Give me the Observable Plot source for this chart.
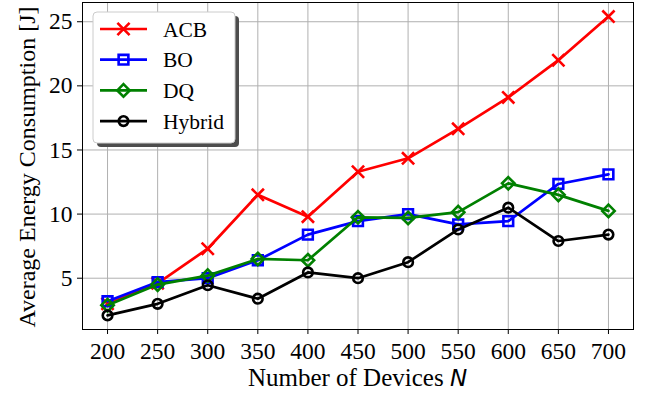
<!DOCTYPE html>
<html><head><meta charset="utf-8">
<script src="https://cdn.jsdelivr.net/npm/d3@7"></script>
<script src="https://cdn.jsdelivr.net/npm/@observablehq/plot@0.6"></script>
<style>
body{margin:0;background:#fff}
#chart{position:relative;width:655px;height:394px}
#chart svg text, #chart svg tspan{font-family:"Liberation Serif", serif}
#chart svg tspan.math{font-family:"DejaVu Sans", sans-serif;font-style:italic}
</style>
</head><body><div id="chart"></div>
<script>
const devices = [200, 250, 300, 350, 400, 450, 500, 550, 600, 650, 700];
const acb = [3.0, 4.6, 7.3, 11.5, 9.8, 13.3, 14.35, 16.65, 19.1, 22.0, 25.4];
const bo = [3.2, 4.7, 5.0, 6.4, 8.4, 9.45, 10.0, 9.2, 9.45, 12.35, 13.1];
const dq = [2.9, 4.5, 5.2, 6.5, 6.4, 9.75, 9.7, 10.15, 12.4, 11.5, 10.25];
const hybrid = [2.1, 3.0, 4.45, 3.4, 5.45, 5.0, 6.25, 8.8, 10.5, 7.9, 8.4];
const seriesNames = ["ACB", "BO", "DQ", "Hybrid"];
const seriesValues = [acb, bo, dq, hybrid];
const seriesColors = ["#ff0000", "#0000ff", "#008000", "#000000"];
const seriesSymbols = ["times", "square2", "diamond2", "circle"];
const seriesR = [5.6, 6.2, 5.6, 4.8];
const xTicks = [200, 250, 300, 350, 400, 450, 500, 550, 600, 650, 700];
const yTicks = [5, 10, 15, 20, 25];

const rows = [];
seriesNames.forEach((s, i) => devices.forEach((d, j) => rows.push({series: s, n: d, v: seriesValues[i][j]})));

const W = 655, H = 394, ML = 82, MR = 22, MT = 2, MB = 65;
const FONT = "Liberation Serif";

const marks = [
  Plot.gridX(xTicks, {stroke: "#b0b0b0", strokeOpacity: 1, strokeWidth: 1}),
  Plot.gridY(yTicks, {stroke: "#b0b0b0", strokeOpacity: 1, strokeWidth: 1}),
  Plot.axisX(xTicks, {tickSize: 5, tickPadding: 8, fontSize: 23.5, label: null, stroke: "black"}),
  Plot.axisY(yTicks, {tickSize: 5, tickPadding: 5, fontSize: 23.5, label: null, stroke: "black"}),
];
seriesNames.forEach((s, i) => {
  const data = rows.filter(r => r.series === s);
  marks.push(Plot.line(data, {x: "n", y: "v", stroke: seriesColors[i], strokeWidth: 2.7}));
  marks.push(Plot.dot(data, {x: "n", y: "v", symbol: () => seriesSymbols[i], r: seriesR[i], stroke: seriesColors[i], strokeWidth: 2.6, fill: "none"}));
});
marks.push(Plot.frame({stroke: "black", strokeWidth: 1}));

const chart = Plot.plot({
  width: W, height: H,
  marginLeft: ML, marginRight: MR, marginTop: MT, marginBottom: MB,
  style: {fontFamily: FONT, fontSize: "23.5px", color: "black", background: "white"},
  x: {domain: [175, 725]},
  y: {domain: [1.0, 26.5]},
  symbol: {type: "identity"},
  marks
});
document.getElementById("chart").appendChild(chart);

const svg = d3.select(chart);
// x-axis label
const xl = svg.append("text").attr("x", ML + (W - ML - MR) / 2).attr("y", 386)
  .attr("text-anchor", "middle").attr("font-size", 25).attr("fill", "black");
xl.append("tspan").text("Number of Devices ");
xl.append("tspan").attr("class", "math").attr("font-size", 23).text("N");
// y-axis label
svg.append("text").attr("transform", `translate(35,167) rotate(-90)`)
  .attr("text-anchor", "middle").attr("font-size", 24).attr("fill", "black")
  .text("Average Energy Consumption [J]");

// legend
const lg = svg.append("g");
const lx = 93, ly = 12, lw = 142, lh = 131;
lg.append("rect").attr("x", lx + 4).attr("y", ly + 4).attr("width", lw).attr("height", lh).attr("rx", 4).attr("fill", "#4d4d4d");
lg.append("rect").attr("x", lx).attr("y", ly).attr("width", lw).attr("height", lh).attr("rx", 4).attr("fill", "white").attr("stroke", "#cccccc");
const typeMap = {times: d3.symbolTimes, square2: d3.symbolSquare2, diamond2: d3.symbolDiamond2, circle: d3.symbolCircle};
seriesNames.forEach((s, i) => {
  const y = ly + 17 + i * 30.7;
  lg.append("line").attr("x1", lx + 7).attr("x2", lx + 54).attr("y1", y).attr("y2", y).attr("stroke", seriesColors[i]).attr("stroke-width", 2.7);
  lg.append("path").attr("transform", `translate(${lx + 30.5},${y})`)
    .attr("d", d3.symbol(typeMap[seriesSymbols[i]], Math.PI * seriesR[i] * seriesR[i])())
    .attr("fill", "none").attr("stroke", seriesColors[i]).attr("stroke-width", 2.6);
  lg.append("text").attr("x", lx + 70).attr("y", y + 7.5).attr("text-anchor", "start").attr("font-size", 21.5).attr("fill", "black").text(s);
});
</script>
</body></html>
